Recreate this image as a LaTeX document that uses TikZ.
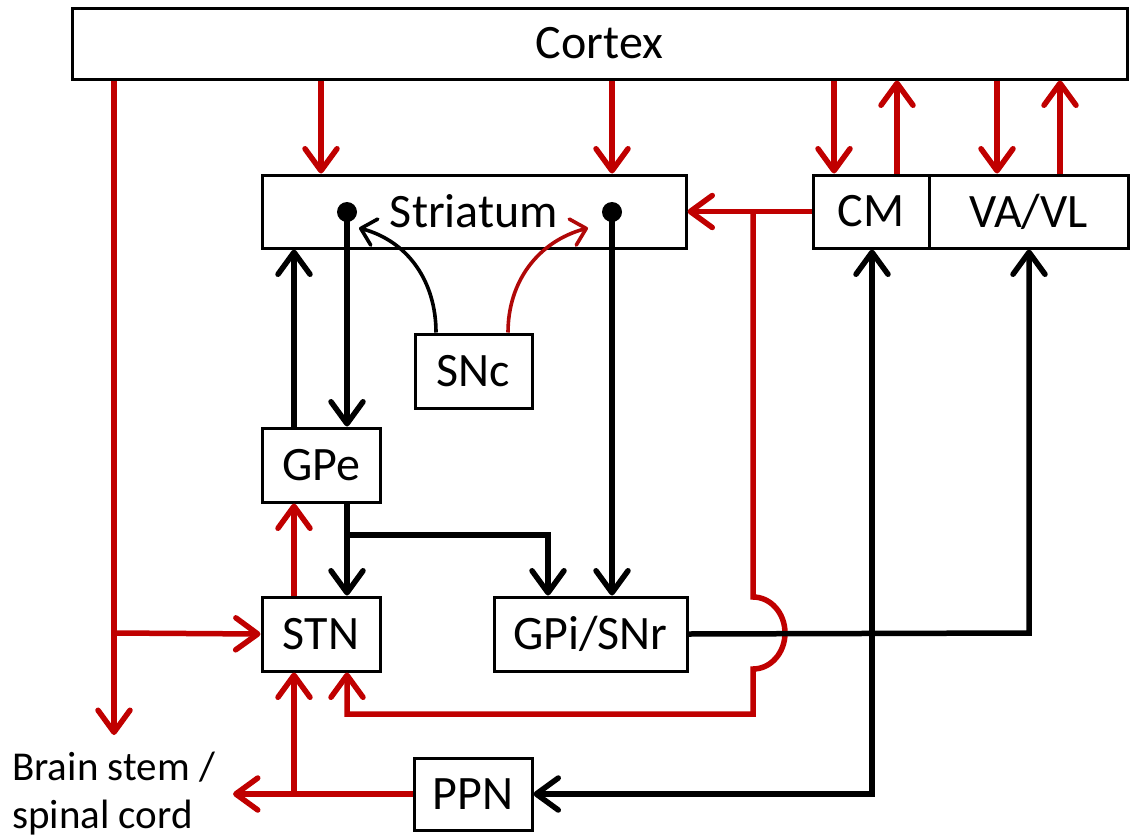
\documentclass[tikz,border=0pt]{standalone}
\usepackage{fontspec}
\setmainfont{Carlito}
\usetikzlibrary{arrows.meta,calc}
\definecolor{dred}{HTML}{C00000}
\definecolor{cred}{HTML}{B00808}
\begin{document}
\begin{tikzpicture}[x=1pt,y=-1pt,
  box/.style={draw, line width=3pt, rectangle, inner sep=0pt, font=\fontsize{48}{56}\selectfont},
  arr/.style={line width=5.5pt, -{Straight Barb[length=22pt,width=32pt,round]}},
  biarr/.style={line width=5.5pt, {Straight Barb[length=22pt,width=32pt,round]}-{Straight Barb[length=22pt,width=32pt,round]}},
  rline/.style={line width=5.5pt, draw=dred},
  kline/.style={line width=5.5pt, draw=black},
  sarr/.style={line width=3.6pt, -{Straight Barb[length=14pt,width=27pt,round]}},
  dot/.style={circle, fill=black, inner sep=0pt, minimum size=20pt},
  lbl/.style={anchor=west, align=left, inner sep=0pt, font=\fontsize{41}{48}\selectfont}
]
\useasboundingbox (0,0) rectangle (1130,838);

% nodes
\node[box, minimum width=1055pt, minimum height=71pt] (cortex) at (599.5,43.5) {Cortex};
\node[box, minimum width=424pt, minimum height=73pt] (str) at (474,211.5) {Striatum};
\node[box, minimum width=116pt, minimum height=73pt] (cm) at (871,211.5) {CM};
\node[box, minimum width=199pt, minimum height=73pt] (vavl) at (1028.5,211.5) {VA/VL};
\node[box, minimum width=117pt, minimum height=74pt] (snc) at (473.5,371) {SNc};
\node[box, minimum width=118pt, minimum height=74pt] (gpe) at (321,465) {GPe};
\node[box, minimum width=118pt, minimum height=74pt] (stn) at (321,634) {STN};
\node[box, minimum width=193pt, minimum height=74pt] (gpi) at (590.5,634) {GPi/SNr};
\node[box, minimum width=118pt, minimum height=72pt] (ppn) at (473,794) {PPN};
\node[lbl] (bs) at (12,794) {Brain stem /\\spinal cord};
\node[dot] (d1) at (347,212) {};
\node[dot] (d2) at (612,212) {};

\coordinate (bsA) at (114,735);
\coordinate (bsB) at (233,794);
\coordinate (sncA) at (359,228);
\coordinate (sncB) at (588,228);

% red cortical projections
\draw[rline, arr] (321,0 |- cortex.south) -- (321,0 |- str.north);
\draw[rline, arr] (612,0 |- cortex.south) -- (612,0 |- str.north);
\draw[rline, arr] (834,0 |- cortex.south) -- (834,0 |- cm.north);
\draw[rline, arr] (897,0 |- cm.north) -- (897,0 |- cortex.south);
\draw[rline, arr] (997,0 |- cortex.south) -- (997,0 |- vavl.north);
\draw[rline, arr] (1060,0 |- vavl.north) -- (1060,0 |- cortex.south);
\draw[rline, arr] (114,0 |- cortex.south) -- (bsA);
\draw[rline, arr] (114,633) -- (stn.west);

% CM to striatum and STN
\draw[rline, arr] (cm.west) -- (str.east);
\draw[rline, arr] (753,212) -- (753,597)
  arc[start angle=90, end angle=-90, x radius=32pt, y radius=36pt]
  -- (753,714) -- (347,714) -- (347,0 |- stn.south);

% PPN outputs
\draw[rline, arr] (ppn.west) -- (bsB);
\draw[rline, arr] (294,794) -- (294,0 |- stn.south);

% STN to GPe
\draw[rline, arr] (294,0 |- stn.north) -- (294,0 |- gpe.south);

% black projections
\draw[kline, arr] (294,0 |- gpe.north) -- (294,0 |- str.south);
\draw[kline, arr] (d1.center) -- (347,0 |- gpe.north);
\draw[kline, arr] (d2.center) -- (612,0 |- gpi.north);
\draw[kline, arr] (347,0 |- gpe.south) -- (347,0 |- stn.north);
\draw[kline, arr] (347,535) -- (548,535) -- (548,0 |- gpi.north);
\draw[kline, arr] (gpi.east) -- (1029,633) -- (1029,0 |- vavl.south);
\draw[kline, biarr] (872,0 |- cm.south) -- (872,794) -- (ppn.east);

% SNc dopaminergic
\draw[sarr, draw=black] (436,0 |- snc.north) to[out=90, in=-15] (sncA);
\draw[sarr, draw=cred] (508,0 |- snc.north) to[out=90, in=195] (sncB);
\end{tikzpicture}
\end{document}
